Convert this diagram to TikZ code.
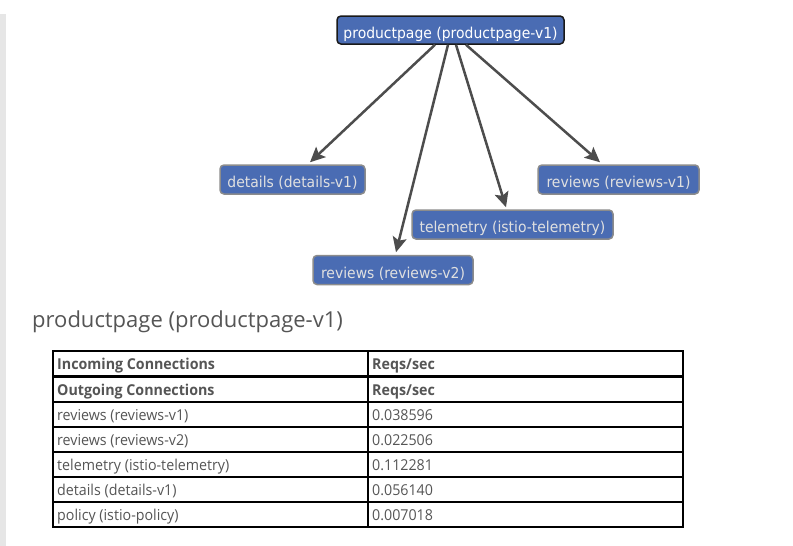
\documentclass[tikz,border=0pt]{standalone}
\usepackage{fontspec}
\usetikzlibrary{arrows.meta}
\newfontfamily\nodefont[FakeStretch=0.93]{DejaVu Sans}
\newfontfamily\titlefont{Open Sans}
\newfontfamily\tabfont[FakeStretch=0.95]{Open Sans}
\definecolor{nodeblue}{HTML}{4A6CB3}
\definecolor{arrowgray}{HTML}{4D4D4D}
\definecolor{txtgray}{HTML}{555555}
\definecolor{bordergray}{HTML}{8C8C8C}
\definecolor{bargray}{HTML}{E6E6E6}
\tikzset{
  svc/.style={rectangle, rounded corners=4pt, fill=nodeblue, draw=bordergray, line width=1.5pt,
    inner sep=0pt, text height=16pt, text depth=0pt, text=black!12, font=\nodefont\fontsize{15}{17}\selectfont},
  rootsvc/.style={svc, draw=black!90, text=white},
  arr/.style={draw=arrowgray, line width=2.5pt, -{Stealth[length=15pt,width=14pt,inset=3pt]}},
  cell/.style={anchor=base west, inner sep=0pt, text=txtgray, font=\tabfont\fontsize{15}{17}\selectfont},
  hcell/.style={cell, font=\tabfont\bfseries\fontsize{15}{17}\selectfont},
  grid/.style={draw=black, line width=1.3pt}
}
\begin{document}
\begin{tikzpicture}[x=1pt,y=-1pt]
\useasboundingbox (0,0) rectangle (793,546);
\fill[white] (0,0) rectangle (793,546);
\fill[bargray] (0,14) rectangle (6,546);

% graph nodes
\node[rootsvc, minimum width=227pt, minimum height=28pt] (root) at (450.5,30) {productpage (productpage-v1)};
\node[svc, minimum width=145pt, minimum height=29pt] (details) at (292.5,179.5) {details (details-v1)};
\node[svc, minimum width=161pt, minimum height=29pt] (rv1) at (618.5,179.5) {reviews (reviews-v1)};
\node[svc, minimum width=201pt, minimum height=29pt] (tel) at (512.5,224.5) {telemetry (istio-telemetry)};
\node[svc, minimum width=160pt, minimum height=29pt] (rv2) at (393,270) {reviews (reviews-v2)};

% connectors
\draw[arr] ([xshift=-15.5pt]root.south) -- ([xshift=17.5pt,yshift=2pt]details.north);
\draw[arr] ([xshift=-2.5pt]root.south) -- ([xshift=3pt,yshift=2.5pt]rv2.north);
\draw[arr] ([xshift=5.5pt]root.south) -- ([xshift=-6.5pt,yshift=2pt]tel.north);
\draw[arr] ([xshift=15.5pt]root.south) -- ([xshift=-18.5pt,yshift=2pt]rv1.north);

% title
\node[anchor=base west, inner sep=0pt, text=txtgray, font=\titlefont\fontsize{22}{26}\selectfont] (title) at (32,327) {productpage (productpage-v1)};

% table
\draw[grid] (53,351) rectangle (683,527);
\draw[grid] (368,351) -- (368,527);
\draw[draw=black, line width=2.6pt] (53,376.7) -- (683,376.7);
\foreach \yy in {402,427,452,477,502} { \draw[grid] (53,\yy) -- (683,\yy); }

\node[hcell] (h1a) at (57,369) {Incoming Connections};
\node[hcell] (h1b) at (372,369) {Reqs/sec};
\node[hcell] (h2a) at (57,395) {Outgoing Connections};
\node[hcell] (h2b) at (372,395) {Reqs/sec};
\node[cell] (r1a) at (57,420.5) {reviews (reviews-v1)};
\node[cell] (r1b) at (372,420.5) {0.038596};
\node[cell] (r2a) at (57,445.5) {reviews (reviews-v2)};
\node[cell] (r2b) at (372,445.5) {0.022506};
\node[cell] (r3a) at (57,470.5) {telemetry (istio-telemetry)};
\node[cell] (r3b) at (372,470.5) {0.112281};
\node[cell] (r4a) at (57,495.5) {details (details-v1)};
\node[cell] (r4b) at (372,495.5) {0.056140};
\node[cell] (r5a) at (57,520.5) {policy (istio-policy)};
\node[cell] (r5b) at (372,520.5) {0.007018};
\end{tikzpicture}
\end{document}
